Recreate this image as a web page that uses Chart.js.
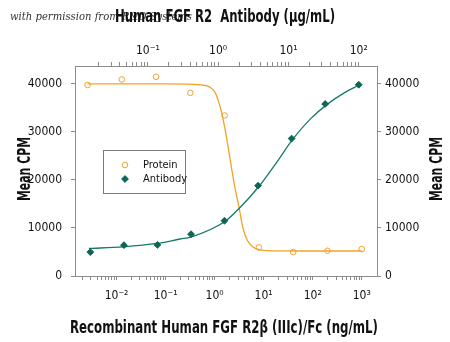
<!DOCTYPE html>
<html>
<head>
<meta charset="utf-8">
<script src="https://cdn.jsdelivr.net/npm/chart.js@4.4.1/dist/chart.umd.min.js"></script>
<style>
  html, body { margin: 0; padding: 0; background: #fff; }
  #wrap { width: 450px; height: 342px; }
</style>
</head>
<body>
<div id="wrap"><canvas id="chart"></canvas></div>
<script>
// Protein: recombinant FGF R2 beta (IIIc)/Fc, ng/mL on the bottom axis
const proteinDose = [0.00256, 0.0128, 0.064, 0.32, 1.6, 8, 40, 200, 1000];
const proteinCpm = [39750, 40900, 41450, 38100, 33400, 5950, 4970, 5250, 5600];
const proteinFitDose = [0.00256, 0.1, 0.5, 0.8, 1.01, 1.18, 1.39, 1.62, 1.9, 2.22, 2.59, 3.18, 3.72, 4.5, 5.69, 8.4, 21, 100, 1000];
const proteinFitCpm = [40000, 40000, 39800, 39300, 38300, 36600, 34000, 30700, 26600, 22400, 18450, 14000, 10300, 7700, 6250, 5450, 5220, 5200, 5200];

// Antibody: anti-FGF R2, ug/mL on the top axis
const antibodyDose = [0.0152, 0.0457, 0.137, 0.412, 1.23, 3.70, 11.1, 33.3, 100];
const antibodyCpm = [4970, 6420, 6480, 8700, 11500, 18800, 28600, 35800, 39800];
const antibodyFitDose = [0.0145, 0.0447, 0.135, 0.288, 0.41, 1.26, 2.0, 3.8, 6.8, 11.7, 20.4, 36.3, 63, 100];
const antibodyFitCpm = [5730, 6070, 6770, 7700, 8100, 11390, 14100, 18630, 23660, 28570, 32650, 35820, 38160, 39700];

const cpmTicks = [0, 10000, 20000, 30000, 40000];
const legendLabels = ['Protein', 'Antibody'];

const topTitle = 'Human FGF R2  Antibody (\u03BCg/mL)';
const bottomTitle = 'Recombinant Human FGF R2\u03B2 (IIIc)/Fc (ng/mL)';
const yTitle = 'Mean CPM';
const note = 'with permission from R&D Systems';

const ORANGE = '#f2a22a';
const TEAL = '#167a68';
const TEAL_DARK = '#0c6656';
const AXIS = '#8c8c8c';
const FONT = "'DejaVu Sans Condensed', sans-serif";
const TITLE_FONT = "bold 18px 'DejaVu Sans Condensed', sans-serif";

const toXY = (xs, ys) => xs.map((x, i) => ({ x: x, y: ys[i] }));

const SUP = { '-': '\u207B', '0': '\u2070', '1': '\u00B9', '2': '\u00B2', '3': '\u00B3',
  '4': '\u2074', '5': '\u2075', '6': '\u2076', '7': '\u2077', '8': '\u2078', '9': '\u2079' };
const powerLabel = e => '10' + String(e).split('').map(c => SUP[c]).join('');

// decade + minor ticks (1..9 x 10^n), skipping ones that sit on the frame edge
function logTicks(scale) {
  const ticks = [];
  const lo = Math.floor(Math.log10(scale.min));
  const hi = Math.ceil(Math.log10(scale.max));
  for (let e = lo; e <= hi; e++) {
    for (let m = 1; m <= 9; m++) {
      const v = m * Math.pow(10, e);
      if (v > scale.min * 1.15 && v < scale.max / 1.15) ticks.push({ value: v, major: m === 1 });
    }
  }
  scale.ticks = ticks;
}

function logLabel(value) {
  const e = Math.log10(value);
  const r = Math.round(e);
  return Math.abs(e - r) < 1e-9 ? powerLabel(r) : '';
}

const gridOpts = {
  display: true,
  drawOnChartArea: false,
  drawTicks: true,
  tickLength: 4,
  color: AXIS
};
const borderOpts = { display: true, color: AXIS, width: 1 };
const tickFont = { family: FONT, size: 12 };

// inset legend drawn inside the plot frame
const insetLegend = {
  id: 'insetLegend',
  afterDatasetsDraw(chart) {
    const { ctx, chartArea } = chart;
    const x0 = chartArea.left + 28, y0 = chartArea.top + 84;
    const w = 82, h = 43;
    ctx.save();
    ctx.fillStyle = '#fff';
    ctx.fillRect(x0, y0, w, h);
    ctx.strokeStyle = '#7a7a7a';
    ctx.lineWidth = 1;
    ctx.strokeRect(x0 + 0.5, y0 + 0.5, w, h);
    const items = [chart.data.datasets[0], chart.data.datasets[2]];
    items.forEach((ds, i) => {
      const cy = y0 + 15 + i * 14;
      ctx.strokeStyle = ds.pointBorderColor;
      ctx.fillStyle = ds.pointBackgroundColor;
      ctx.lineWidth = 1;
      Chart.helpers.drawPoint(ctx, {
        pointStyle: ds.pointStyle, radius: ds.pointRadius, rotation: 0, borderWidth: 1
      }, x0 + 22, cy);
      ctx.fillStyle = '#111';
      ctx.font = '11px ' + FONT;
      ctx.textBaseline = 'middle';
      ctx.textAlign = 'left';
      ctx.fillText(legendLabels[i], x0 + 40, cy);
    });
    ctx.restore();
  }
};

// permission note sitting under the top title
const permissionNote = {
  id: 'permissionNote',
  beforeDraw(chart) {
    const { ctx } = chart;
    ctx.save();
    ctx.fillStyle = '#333';
    ctx.font = "italic 11px 'DejaVu Serif', serif";
    ctx.textBaseline = 'middle';
    ctx.fillText(note, 10, 17, 182);
    ctx.restore();
  }
};

// condensed axis titles; both y titles read bottom-to-top
const axisTitles = {
  id: 'axisTitles',
  afterDraw(chart) {
    const { ctx, chartArea: a } = chart;
    const cx = (a.left + a.right) / 2;
    const cy = (a.top + a.bottom) / 2 - 2;
    ctx.save();
    ctx.fillStyle = '#111';
    ctx.font = TITLE_FONT;
    ctx.textAlign = 'center';
    ctx.textBaseline = 'middle';
    ctx.fillText(topTitle, cx - 1, 17, 220);
    ctx.fillText(bottomTitle, cx - 2, 328, 308);
    [25, 437].forEach(x => {
      ctx.save();
      ctx.translate(x, cy);
      ctx.rotate(-Math.PI / 2);
      ctx.fillText(yTitle, 0, 0, 64);
      ctx.restore();
    });
    ctx.restore();
  }
};

new Chart(document.getElementById('chart'), {
  type: 'scatter',
  data: {
    datasets: [
      {
        label: 'Protein',
        data: toXY(proteinDose, proteinCpm),
        xAxisID: 'x', yAxisID: 'y',
        showLine: false,
        pointStyle: 'circle',
        pointRadius: 2.8,
        pointBorderWidth: 1,
        pointBorderColor: ORANGE,
        pointBackgroundColor: 'rgba(255,255,255,0)',
        order: 1
      },
      {
        label: 'Protein fit',
        data: toXY(proteinFitDose, proteinFitCpm),
        xAxisID: 'x', yAxisID: 'y',
        showLine: true,
        cubicInterpolationMode: 'monotone',
        borderColor: ORANGE,
        borderWidth: 1.3,
        pointRadius: 0,
        order: 3
      },
      {
        label: 'Antibody',
        data: toXY(antibodyDose, antibodyCpm),
        xAxisID: 'x2', yAxisID: 'y',
        showLine: false,
        pointStyle: 'rectRot',
        pointRadius: 3.4,
        pointBorderWidth: 1,
        pointBorderColor: TEAL_DARK,
        pointBackgroundColor: TEAL_DARK,
        order: 0
      },
      {
        label: 'Antibody fit',
        data: toXY(antibodyFitDose, antibodyFitCpm),
        xAxisID: 'x2', yAxisID: 'y',
        showLine: true,
        cubicInterpolationMode: 'monotone',
        borderColor: TEAL,
        borderWidth: 1.3,
        pointRadius: 0,
        order: 2
      }
    ]
  },
  options: {
    responsive: true,
    maintainAspectRatio: false,
    animation: false,
    layout: { padding: 0 },
    plugins: {
      legend: { display: false },
      tooltip: { enabled: false }
    },
    scales: {
      x: {
        type: 'logarithmic',
        position: 'bottom',
        min: 0.00142,
        max: 2050,
        afterBuildTicks: logTicks,
        afterFit: s => { s.height = 66; },
        grid: gridOpts,
        border: borderOpts,
        ticks: {
          autoSkip: false, maxRotation: 0, padding: 9,
          color: '#111', font: tickFont,
          callback: logLabel
        }
      },
      x2: {
        type: 'logarithmic',
        position: 'top',
        min: 0.0092,
        max: 182,
        afterBuildTicks: logTicks,
        afterFit: s => { s.height = 66; },
        grid: gridOpts,
        border: borderOpts,
        ticks: {
          autoSkip: false, maxRotation: 0, padding: 4,
          color: '#111', font: tickFont,
          callback: logLabel
        }
      },
      y: {
        type: 'linear',
        position: 'left',
        min: 0,
        max: 43700,
        afterBuildTicks: s => { s.ticks = cpmTicks.map(v => ({ value: v })); },
        afterFit: s => { s.width = 75; },
        grid: gridOpts,
        border: borderOpts,
        ticks: {
          padding: 9, color: '#111', font: tickFont,
          callback: v => String(v)
        }
      },
      y2: {
        type: 'linear',
        position: 'right',
        min: 0,
        max: 43700,
        afterBuildTicks: s => { s.ticks = cpmTicks.map(v => ({ value: v })); },
        afterFit: s => { s.width = 73; },
        grid: gridOpts,
        border: borderOpts,
        ticks: {
          padding: 4, color: '#111', font: tickFont,
          callback: v => String(v)
        }
      }
    }
  },
  plugins: [permissionNote, insetLegend, axisTitles]
});
</script>
</body>
</html>
